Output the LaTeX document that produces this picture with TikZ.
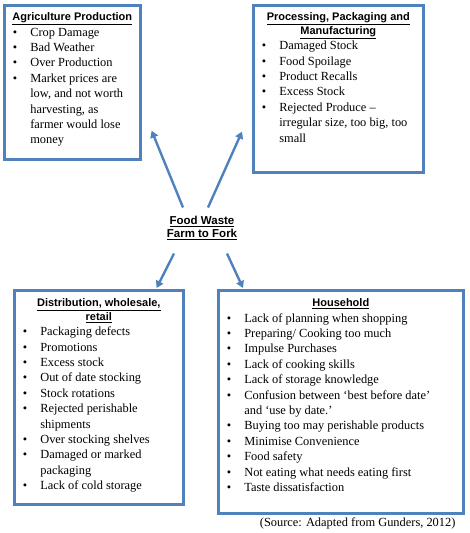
\documentclass[tikz,border=0pt]{standalone}
\usepackage{fontspec}
\setmainfont{Liberation Serif}
\setsansfont{Liberation Sans}
\usepackage{xcolor}
\usepackage{tikz}
\usetikzlibrary{positioning, calc, arrows.meta}
\definecolor{WasteBlue}{HTML}{4F81BD}
\newenvironment{wastelist}{\begin{list}{\textbullet}{%
  \setlength{\leftmargin}{26pt}\setlength{\labelsep}{13pt}%
  \setlength{\labelwidth}{12pt}\setlength{\itemsep}{0pt}%
  \setlength{\parsep}{0pt}\setlength{\topsep}{0pt}\setlength{\partopsep}{0pt}}%
  \fontsize{12.4}{15.4}\selectfont}{\end{list}}
\newcommand{\wastehead}[1]{{\centering\sffamily\bfseries\fontsize{11}{13.5}\selectfont #1\par}}

\begin{document}
\begin{tikzpicture}[x=1pt, y=-1pt,
  wastebox/.style={draw=WasteBlue, line width=2.6pt, anchor=north west, inner sep=0pt},
  flow/.style={-{Triangle[length=7pt, width=8pt]}, WasteBlue, line width=2.4pt}]
  \useasboundingbox (0,0) rectangle (470,533);
  % the four stages
  \node[wastebox] (agri) at (3,4) {\begin{minipage}[t][154pt][t]{136pt}
    \vspace*{7.5pt}\wastehead{\underline{Agriculture Production}}
    \begin{wastelist}
      \item Crop Damage
      \item Bad Weather
      \item Over Production
      \item Market prices are\newline low, and not worth\newline harvesting, as\newline farmer would lose\newline money
    \end{wastelist}\end{minipage}};
  \node[wastebox] (proc) at (252,4) {\begin{minipage}[t][167pt][t]{170pt}
    \vspace*{7.5pt}\wastehead{\underline{Processing, Packaging and}\\\underline{Manufacturing}}
    \begin{wastelist}
      \item Damaged Stock
      \item Food Spoilage
      \item Product Recalls
      \item Excess Stock
      \item Rejected Produce --\newline irregular size, too big, too\newline small
    \end{wastelist}\end{minipage}};
  \node[wastebox] (dist) at (13,289) {\begin{minipage}[t][214pt][t]{169pt}
    \vspace*{8.5pt}\wastehead{\underline{Distribution, wholesale,}\\\underline{retail}}
    \begin{wastelist}
      \item Packaging defects
      \item Promotions
      \item Excess stock
      \item Out of date stocking
      \item Stock rotations
      \item Rejected perishable\newline shipments
      \item Over stocking shelves
      \item Damaged or marked\newline packaging
      \item Lack of cold storage
    \end{wastelist}\end{minipage}};
  \node[wastebox] (house) at (217,289) {\begin{minipage}[t][223pt][t]{245pt}
    \vspace*{8.5pt}\wastehead{\underline{Household}}
    \begin{wastelist}
      \item Lack of planning when shopping
      \item Preparing/ Cooking too much
      \item Impulse Purchases
      \item Lack of cooking skills
      \item Lack of storage knowledge
      \item Confusion between ‘best before date’\newline and ‘use by date.’
      \item Buying too may perishable products
      \item Minimise Convenience
      \item Food safety
      \item Not eating what needs eating first
      \item Taste dissatisfaction
    \end{wastelist}\end{minipage}};
  % centre and arrows
  \node[font=\sffamily\bfseries\fontsize{11.5}{13.5}\selectfont, align=center] (title) at (202,228)
    {\underline{Food Waste}\\\underline{Farm to Fork}};
  \coordinate (agfrom) at ([shift={(-19,-5)}]title.north);
  \coordinate (prfrom) at ([shift={(6,-5)}]title.north);
  \coordinate (difrom) at ([shift={(-28,10)}]title.south);
  \coordinate (hofrom) at ([shift={(25,10)}]title.south);
  \coordinate (agtip) at ([shift={(10,-30)}]agri.south east);
  \coordinate (prtip) at ([shift={(-10,-42)}]proc.south west);
  \coordinate (ditip) at ([shift={(-28,-1)}]dist.north east);
  \coordinate (hotip) at ([shift={(26,-1)}]house.north west);
  \draw[flow] (agfrom) -- (agtip);
  \draw[flow] (prfrom) -- (prtip);
  \draw[flow] (difrom) -- (ditip);
  \draw[flow] (hofrom) -- (hotip);
  \node[font=\fontsize{12.4}{15}\selectfont, anchor=east] (source) at (459,523) {(Source: Adapted from Gunders, 2012)};
\end{tikzpicture}
\end{document}
